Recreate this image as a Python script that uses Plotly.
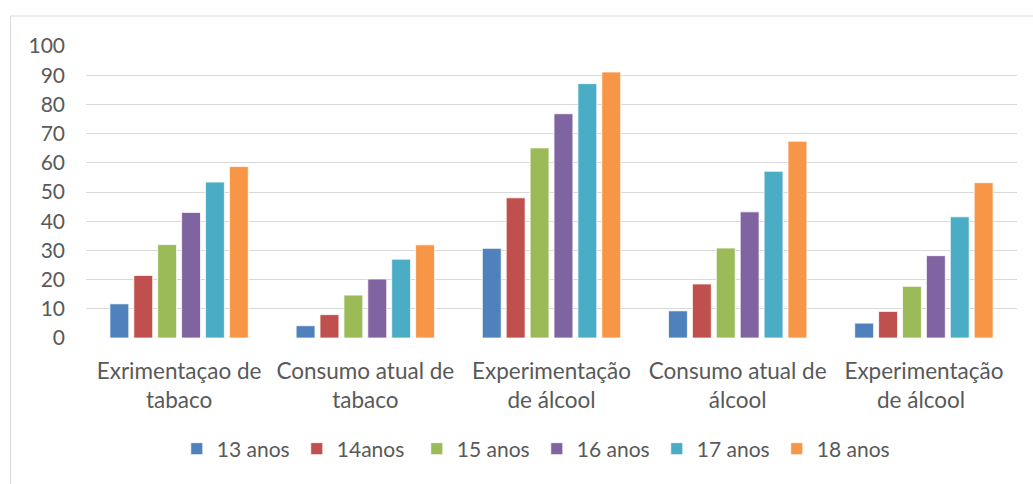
import plotly.graph_objects as go

categories = ["Exrimentaçao de<br>tabaco", "Consumo atual de<br>tabaco", "Experimentação<br>de álcool",
              "Consumo atual de<br>álcool", "Experimentação<br>de álcool "]
series_names = ["13 anos", "14anos", "15 anos", "16 anos", "17 anos", "18 anos"]
s13 = [11.7, 4.2, 30.7, 9.3, 5.1]
s14 = [21.4, 8.0, 48.0, 18.5, 9.1]
s15 = [32.0, 14.7, 65.1, 30.8, 17.7]
s16 = [43.0, 20.2, 76.8, 43.2, 28.2]
s17 = [53.4, 27.0, 87.1, 57.1, 41.5]
s18 = [58.7, 31.9, 91.1, 67.4, 53.2]
colors = ["#4F81BD", "#C0504D", "#9BBB59", "#8064A2", "#4BACC6", "#F79646"]
yticks = [0, 10, 20, 30, 40, 50, 60, 70, 80, 90, 100]

FONT = "Lato, Carlito, Calibri, sans-serif"
TXT = "#595959"

fig = go.Figure()
for name, vals, col in zip(series_names, [s13, s14, s15, s16, s17, s18], colors):
    fig.add_trace(go.Bar(x=categories, y=vals, name=name,
                         marker=dict(color=col, line=dict(color="white", width=0.75))))

fig.update_layout(
    width=1033, height=484,
    margin=dict(l=86, r=16, t=46, b=146),
    paper_bgcolor="white", plot_bgcolor="white",
    barmode="group", bargap=0.23, bargroupgap=0.21,
    font=dict(family=FONT, color=TXT, size=21),
    showlegend=True,
    legend=dict(orientation="h", x=0.0975, xanchor="left", y=-0.31, yanchor="top",
                font=dict(family=FONT, size=21, color=TXT),
                itemwidth=30, entrywidth=75, entrywidthmode="pixels", traceorder="normal"),
    shapes=[dict(type="rect", xref="paper", yref="paper",
                 x0=-0.0811, x1=1.05, y0=-0.7, y1=1.1027,
                 line=dict(color="#D9D9D9", width=1), fillcolor="rgba(0,0,0,0)", layer="below")],
)
fig.update_yaxes(range=[0, 100], tickvals=yticks, showgrid=True, gridcolor="#D9D9D9", gridwidth=1,
                 zeroline=False, showline=False, ticklabelstandoff=20,
                 tickfont=dict(family=FONT, size=21, color=TXT))
fig.update_xaxes(showgrid=False, showline=False, zeroline=False, ticklabelstandoff=17,
                 tickfont=dict(family=FONT, size=22.5, color=TXT))

fig.write_html("out.html")
